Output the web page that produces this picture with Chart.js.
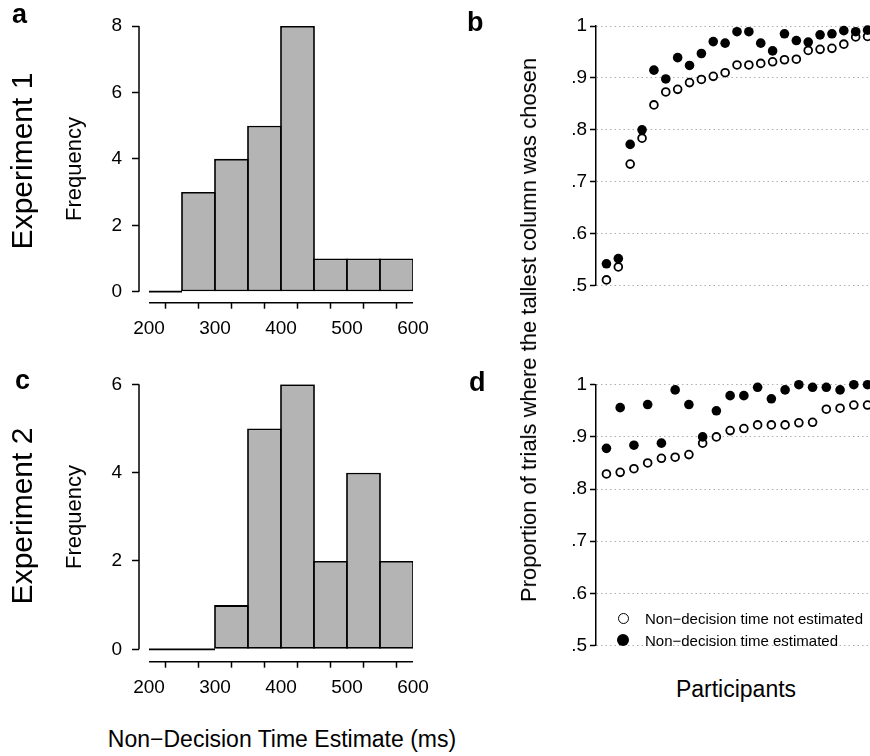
<!DOCTYPE html>
<html>
<head>
<meta charset="utf-8">
<script src="https://cdn.jsdelivr.net/npm/chart.js"></script>
<style>
  html, body { margin: 0; padding: 0; background: #fff; }
  body { width: 870px; height: 756px; overflow: hidden; position: relative;
         font-family: "Liberation Sans", Arial, Helvetica, sans-serif; color: #000; }
  canvas { position: absolute; }
  .lbl { position: absolute; white-space: nowrap; line-height: 1; }
  .panel { font-weight: bold; font-size: 27px; }
  .rot { transform: translate(-50%, -50%) rotate(-90deg); }
  .mid { transform: translateX(-50%); }
  .dot { position: absolute; border-radius: 50%; box-sizing: border-box; }
</style>
</head>
<body>

<canvas id="histA" width="440" height="350" style="left:0;top:0"></canvas>
<canvas id="histC" width="440" height="350" style="left:0;top:360px"></canvas>
<canvas id="propB" width="420" height="300" style="left:470px;top:0"></canvas>
<canvas id="propD" width="420" height="300" style="left:470px;top:360px"></canvas>

<div class="lbl panel" style="left:12px;top:1px">a</div>
<div class="lbl panel" style="left:467px;top:9px">b</div>
<div class="lbl panel" style="left:15px;top:367px">c</div>
<div class="lbl panel" style="left:469px;top:369px">d</div>

<div class="lbl rot" style="left:21.6px;top:160.5px;font-size:30px">Experiment 1</div>
<div class="lbl rot" style="left:21.6px;top:515.5px;font-size:30px">Experiment 2</div>
<div class="lbl rot" style="left:74.4px;top:169px;font-size:22px">Frequency</div>
<div class="lbl rot" style="left:74.4px;top:517px;font-size:22px">Frequency</div>
<div class="lbl rot" style="left:529.4px;top:330px;font-size:22px">Proportion of trials where the tallest column was chosen</div>

<div class="lbl mid" style="left:282px;top:727.5px;font-size:23px">Non−Decision Time Estimate (ms)</div>
<div class="lbl mid" style="left:736px;top:677.5px;font-size:23px">Participants</div>

<div class="dot" style="left:617.5px;top:612.5px;width:11px;height:11px;border:1.9px solid #000;background:#fff"></div>
<div class="dot" style="left:617px;top:634px;width:12px;height:12px;background:#000"></div>
<div class="lbl" style="left:645px;top:610.5px;font-size:15px">Non−decision time not estimated</div>
<div class="lbl" style="left:645px;top:632.5px;font-size:15px">Non−decision time estimated</div>

<script>
// histogram data (bins of 50 ms)
const binEdges = [200, 250, 300, 350, 400, 450, 500, 550, 600];
const exp1Counts = [0, 3, 4, 5, 8, 1, 1, 1];
const exp2Counts = [0, 0, 1, 5, 6, 2, 4, 2];

const histXTicks = [200, 250, 300, 350, 400, 450, 500, 550, 600];
const histXLabels = ['200', '', '300', '', '400', '', '500', '', '600'];
const exp1FreqTicks = [0, 2, 4, 6, 8];
const exp2FreqTicks = [0, 2, 4, 6];

// proportion of trials where the tallest column was chosen, per participant
const propTicks = [0.5, 0.6, 0.7, 0.8, 0.9, 1];
const propLabels = ['.5', '.6', '.7', '.8', '.9', '1'];

const exp1NotEstimated = [0.511, 0.536, 0.734, 0.784, 0.848, 0.873, 0.878, 0.891, 0.897, 0.903, 0.910, 0.925,
                          0.925, 0.928, 0.931, 0.935, 0.936, 0.953, 0.955, 0.957, 0.965, 0.979, 0.980];
const exp1Estimated    = [0.542, 0.552, 0.772, 0.800, 0.915, 0.898, 0.939, 0.924, 0.947, 0.970, 0.967, 0.989,
                          0.989, 0.967, 0.952, 0.985, 0.972, 0.969, 0.983, 0.985, 0.991, 0.989, 0.992];
const exp2NotEstimated = [0.829, 0.832, 0.839, 0.850, 0.859, 0.861, 0.866, 0.888, 0.900, 0.912, 0.916, 0.923,
                          0.923, 0.923, 0.927, 0.928, 0.953, 0.955, 0.961, 0.961];
const exp2Estimated    = [0.878, 0.956, 0.884, 0.962, 0.888, 0.990, 0.962, 0.900, 0.950, 0.979, 0.979, 0.995,
                          0.973, 0.990, 1.000, 0.995, 0.995, 0.990, 1.000, 1.000];

Chart.defaults.font.family = '"Liberation Sans", Arial, Helvetica, sans-serif';
Chart.defaults.color = '#000';

const tickFont = { size: 19 };

// R style axis lines: only from first to last tick
const rAxisLines = {
	id: 'rAxisLines',
	afterDraw( chart ) {
		const { ctx, chartArea, scales: { x, y } } = chart;
		let xt = x.ticks, yt = y.ticks;
		ctx.save();
		ctx.strokeStyle = '#000';
		ctx.lineWidth = 1.5;
		ctx.beginPath();
		ctx.moveTo( chartArea.left, y.getPixelForValue( yt[0].value ) );
		ctx.lineTo( chartArea.left, y.getPixelForValue( yt[yt.length - 1].value ) );
		ctx.moveTo( x.getPixelForValue( xt[0].value ), chartArea.bottom );
		ctx.lineTo( x.getPixelForValue( xt[xt.length - 1].value ), chartArea.bottom );
		ctx.stroke();
		ctx.restore();
	}
};

function makeHist( id, counts, freqTicks, yMin, padTop, xHeight ) {
	let bars = [];
	let zeroLine = [];
	for ( let i = 0; i < counts.length; i++ ) {
		if ( counts[i] > 0 ) {
			bars.push( { x: ( binEdges[i] + binEdges[i + 1] ) / 2, y: counts[i] } );
		} else {
			zeroLine.push( { x: binEdges[i], y: 0 }, { x: binEdges[i + 1], y: 0 } );
		}
	}

	new Chart( document.getElementById( id ), {
		type: 'bar',
		data: {
			datasets: [
				{
					type: 'bar',
					data: bars,
					backgroundColor: '#b4b4b4',
					borderColor: '#000',
					borderWidth: 1.8,
					borderSkipped: false,
					barPercentage: 1.054,
					categoryPercentage: 1
				},
				{
					type: 'line',
					data: zeroLine,
					borderColor: '#000',
					borderWidth: 1.8,
					pointRadius: 0,
					fill: false
				}
			]
		},
		options: {
			responsive: false,
			animation: false,
			devicePixelRatio: 1,
			layout: { padding: { top: padTop, right: 27, left: 0, bottom: 0 } },
			plugins: { legend: { display: false }, tooltip: { enabled: false } },
			scales: {
				x: {
					type: 'linear',
					min: 184.85,
					max: 600,
					offset: false,
					afterBuildTicks: function( s ) { s.ticks = histXTicks.map( v => ( { value: v } ) ); },
					afterFit: function( s ) { s.height = xHeight; },
					grid: { drawOnChartArea: false, tickLength: 6, tickColor: '#000', tickWidth: 1.5 },
					border: { display: false },
					ticks: {
						autoSkip: false, maxRotation: 0, padding: 9, font: tickFont,
						callback: function( v ) { return histXLabels[histXTicks.indexOf( v )]; }
					}
				},
				y: {
					min: yMin,
					max: freqTicks[freqTicks.length - 1],
					afterBuildTicks: function( s ) { s.ticks = freqTicks.map( v => ( { value: v } ) ); },
					afterFit: function( s ) { s.width = 139; },
					grid: { drawOnChartArea: false, tickLength: 7, tickColor: '#000', tickWidth: 1.5 },
					border: { display: false },
					ticks: { padding: 10, font: tickFont }
				}
			}
		},
		plugins: [ rAxisLines ]
	});
}

function makeProp( id, notEst, est, padTop, padBottom ) {
	let n = notEst.length;
	let ext = 0.04 * ( n - 1 );

	new Chart( document.getElementById( id ), {
		type: 'scatter',
		data: {
			datasets: [
				{
					label: 'Non−decision time estimated',
					data: est.map( ( v, i ) => ( { x: i + 1, y: v } ) ),
					backgroundColor: '#000',
					borderColor: '#000',
					borderWidth: 0,
					pointRadius: 4.8,
					order: 0,
					clip: false
				},
				{
					label: 'Non−decision time not estimated',
					data: notEst.map( ( v, i ) => ( { x: i + 1, y: v } ) ),
					backgroundColor: '#fff',
					borderColor: '#000',
					borderWidth: 1.8,
					pointRadius: 3.9,
					order: 1,
					clip: false
				}
			]
		},
		options: {
			responsive: false,
			animation: false,
			devicePixelRatio: 1,
			layout: { padding: { top: padTop, right: 12, left: 0, bottom: padBottom } },
			plugins: { legend: { display: false }, tooltip: { enabled: false } },
			scales: {
				x: { type: 'linear', min: 1 - ext, max: n + ext, display: false },
				y: {
					min: 0.5,
					max: 1,
					afterBuildTicks: function( s ) { s.ticks = propTicks.map( v => ( { value: v } ) ); },
					afterFit: function( s ) { s.width = 126; },
					grid: { color: '#b0b0b0', lineWidth: 1, tickLength: 6, tickColor: '#000', tickWidth: 1.5 },
					border: { display: true, color: '#000', width: 1.5, dash: [ 1.5, 3 ] },
					ticks: {
						padding: 3, font: tickFont,
						callback: function( v ) { return propLabels[propTicks.indexOf( v )]; }
					}
				}
			}
		}
	});
}

makeHist( 'histA', exp1Counts, exp1FreqTicks, -0.331, 26, 47.3 );
makeHist( 'histC', exp2Counts, exp2FreqTicks, -0.281, 24.3, 48.3 );
makeProp( 'propB', exp1NotEstimated, exp1Estimated, 26, 8.3 );
makeProp( 'propD', exp2NotEstimated, exp2Estimated, 24.7, 10.7 );
</script>
</body>
</html>
